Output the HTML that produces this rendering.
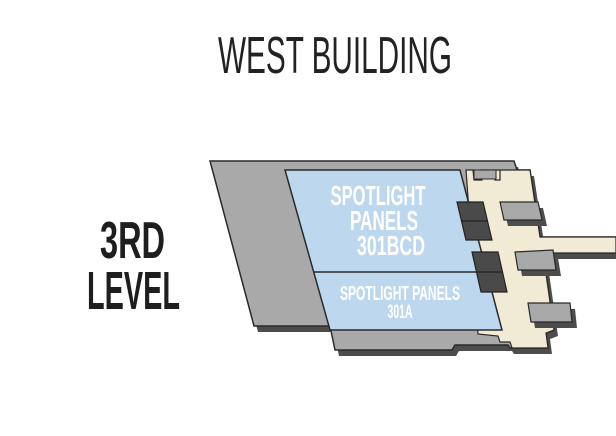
<!DOCTYPE html>
<html><head><style>
html,body{margin:0;padding:0;background:#fff;}
svg{display:block}
</style></head><body>
<svg width="616" height="436" viewBox="0 0 616 436" xmlns="http://www.w3.org/2000/svg">
<rect width="616" height="436" fill="#fff"/>
<text x="218" y="73" font-family="'Liberation Sans Narrow','Liberation Sans',sans-serif" font-size="52" fill="#222" textLength="234" lengthAdjust="spacingAndGlyphs">WEST BUILDING</text>
<text x="100" y="258" font-family="'Liberation Sans Narrow','Liberation Sans',sans-serif" font-weight="bold" font-size="52" fill="#1e1e1e" textLength="65" lengthAdjust="spacingAndGlyphs">3RD</text>
<text x="87" y="309" font-family="'Liberation Sans Narrow','Liberation Sans',sans-serif" font-weight="bold" font-size="54" fill="#1e1e1e" textLength="93" lengthAdjust="spacingAndGlyphs">LEVEL</text>

<g stroke-linejoin="miter">
<polygon points="214,167 518,167 521,176 534,176 544,243 620,243 620,259 547,259 558,336 550,339 552,354 514,354 512,351 459,351 456,356 339,356 334,332 258,332" fill="#4d4d4d"/>
<polygon points="210,161 514,161 517,170 530,170 540,237 616,237 616,253 543,253 554,330 546,333 548,348 510,348 508,345 455,345 452,350 335,350 330,326 254,326" fill="#a9a9a9" stroke="#2a2a2a" stroke-width="1.5"/>
<polygon points="466,170 473,170 474,180 482,180 481,170 500,170 500,180 495,180 496,170 530,170 540,237 616,237 616,253 543,253 554,330 546,333 548,348 512,348 510,342 500,342 498,336 478,334" fill="#f1ead4" stroke="#2a2a2a" stroke-width="1.2"/>
<rect x="474" y="170" width="22" height="9" fill="#a9a9a9" stroke="#2a2a2a" stroke-width="1"/>
<polygon points="285,170 460,170 502,330 330,330" fill="#bdd7ee" stroke="#2a2a2a" stroke-width="1.5"/>
<line x1="313" y1="272" x2="487" y2="272" stroke="#2a2a2a" stroke-width="1.5"/>
<polygon points="457,202 483,202 492,240 466,240" fill="#4a4a4a" stroke="#222" stroke-width="1.2"/>
<line x1="461" y1="221" x2="487" y2="221" stroke="#222" stroke-width="1.2"/>
<polygon points="472,252 498,252 507,292 481,292" fill="#4a4a4a" stroke="#222" stroke-width="1.2"/>
<line x1="476" y1="272" x2="502" y2="272" stroke="#222" stroke-width="1.2"/>
<polygon points="504,208 543,208 547,226 508,226" fill="#4d4d4d"/>
<polygon points="500,202 538,202 542,220 504,220" fill="#a9a9a9" stroke="#2a2a2a" stroke-width="1.2"/>
<polygon points="519,258 558,258 561,276 522,276" fill="#4d4d4d"/>
<polygon points="515,252 553,250 556,270 518,270" fill="#a9a9a9" stroke="#2a2a2a" stroke-width="1.2"/>
<polygon points="532,309 575,309 577,328 535,328" fill="#4d4d4d"/>
<polygon points="528,303 570,303 572,322 531,322" fill="#a9a9a9" stroke="#2a2a2a" stroke-width="1.2"/>
</g>

<g font-family="'Liberation Sans Narrow','Liberation Sans',sans-serif" font-weight="bold" fill="#fff" text-anchor="middle">
<text x="378" y="205" font-size="28" textLength="95" lengthAdjust="spacingAndGlyphs">SPOTLIGHT</text>
<text x="384" y="230" font-size="28" textLength="68" lengthAdjust="spacingAndGlyphs">PANELS</text>
<text x="391" y="255" font-size="28" textLength="68" lengthAdjust="spacingAndGlyphs">301BCD</text>
<text x="400" y="300" font-size="20" textLength="120" lengthAdjust="spacingAndGlyphs">SPOTLIGHT PANELS</text>
<text x="400" y="318" font-size="19" textLength="25" lengthAdjust="spacingAndGlyphs">301A</text>
</g>
</svg>
</body></html>
